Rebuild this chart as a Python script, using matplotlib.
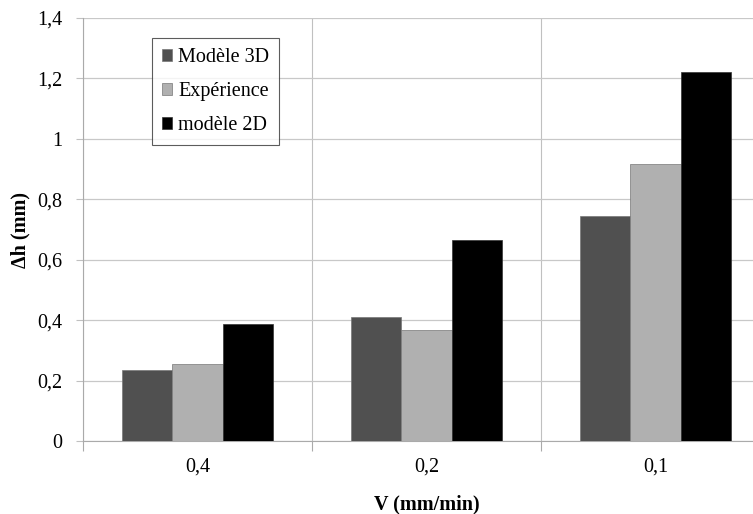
import matplotlib
matplotlib.use("Agg")
import matplotlib.pyplot as plt
import numpy as np

categories = ["0,4", "0,2", "0,1"]
series_names = ["Modèle 3D", "Expérience", "modèle 2D"]
modele_3d = [0.235, 0.41, 0.745]
experience = [0.255, 0.369, 0.917]
modele_2d = [0.387, 0.666, 1.222]
series = [modele_3d, experience, modele_2d]
colors = ["#505050", "#b0b0b0", "#000000"]
yticks = [0, 0.2, 0.4, 0.6, 0.8, 1.0, 1.2, 1.4]
ytick_labels = ["0", "0,2", "0,4", "0,6", "0,8", "1", "1,2", "1,4"]

plt.rcParams['font.family'] = ['Liberation Serif', 'DejaVu Serif']
FS = 14.5

fig = plt.figure(figsize=(7.53, 5.14), dpi=100)
W, H = 753, 514
left, right, top, bottom = 83, 770, 18, 441
aw, ah = right - left, bottom - top
ax = fig.add_axes([left / W, 1 - bottom / H, aw / W, ah / H])

x = np.arange(len(categories))
bw = 0.22
for i, (vals, c, name) in enumerate(zip(series, colors, series_names)):
    ax.bar(x + (i - 1) * bw, vals, bw, color=c, label=name, zorder=3,
           edgecolor="#777777" if i < 2 else "#333333", linewidth=0.5)

ax.set_xlim(-0.5, len(categories) - 0.5)
ax.set_ylim(0, 1.4)
ax.set_yticks(yticks)
ax.set_yticklabels(ytick_labels, fontsize=FS)
ax.set_xticks(x)
ax.set_xticklabels(categories, fontsize=FS)
ax.tick_params(axis='x', length=0, pad=12)
ax.set_xticks(np.arange(len(categories) + 1) - 0.5, minor=True)
ax.tick_params(axis='x', which='minor', length=7, color="#aaaaaa", width=0.8)
ax.tick_params(axis='y', length=5, color="#c0c0c0", width=0.8, pad=10)
ax.grid(axis='y', color="#c8c8c8", linewidth=0.9, zorder=0)
ax.grid(axis='x', which='minor', color="#c0c0c0", linewidth=0.8, zorder=0)

for s in ["top", "right"]:
    ax.spines[s].set_visible(False)
ax.spines["left"].set_color("#aaaaaa")
ax.spines["bottom"].set_color("#aaaaaa")
ax.spines["left"].set_linewidth(0.8)
ax.spines["bottom"].set_linewidth(0.8)

ax.set_ylabel("Δh (mm)", fontsize=FS, fontweight="bold")
ax.set_xlabel("V (mm/min)", fontsize=FS, fontweight="bold")
ax.yaxis.set_label_coords((30 - left) / aw, 0.5)
ax.xaxis.set_label_coords((426.5 - left) / aw, -(494 - bottom) / ah)

leg = ax.legend(loc="upper left", bbox_to_anchor=((152 - left) / aw, 1 - (38 - top) / ah),
                fontsize=FS, frameon=True, fancybox=False, edgecolor="#333333",
                handlelength=0.5, handleheight=0.5, handletextpad=0.3, borderpad=0.5,
                labelspacing=0.75, borderaxespad=0)
leg.get_frame().set_linewidth(0.8)

fig.savefig("out.png", dpi=100)
